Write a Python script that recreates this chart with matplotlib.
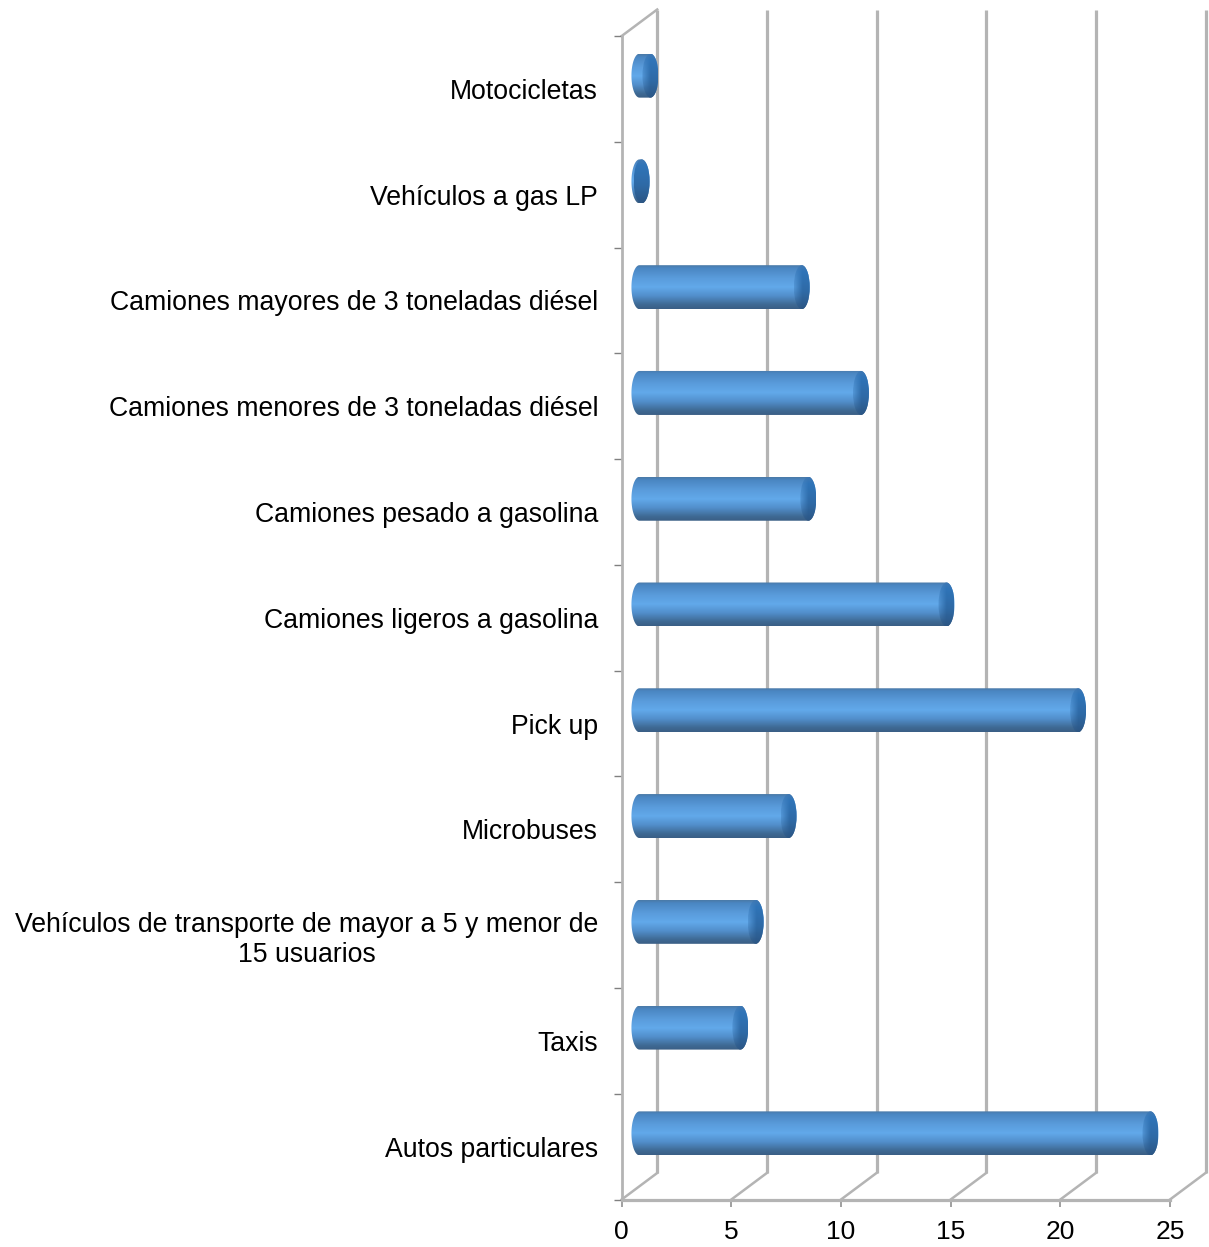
import numpy as np
import matplotlib
matplotlib.use('Agg')
import matplotlib.pyplot as plt
from matplotlib.path import Path
from matplotlib.patches import PathPatch, Ellipse

plt.rcParams['font.family'] = ['Liberation Sans', 'DejaVu Sans']

categories = ['Autos particulares', 'Taxis',
              'Vehículos de transporte de mayor a 5 y menor de\n15 usuarios',
              'Microbuses', 'Pick up', 'Camiones ligeros a gasolina',
              'Camiones pesado a gasolina', 'Camiones menores de 3 toneladas diésel',
              'Camiones mayores de 3 toneladas diésel', 'Vehículos a gas LP', 'Motocicletas']
values = [23.3, 4.6, 5.3, 6.8, 20.0, 14.0, 7.7, 10.1, 7.4, 0.1, 0.5]
xticks = [0, 5, 10, 15, 20, 25]

W, H = 1209, 1247
LEFT, RIGHT, TOP, BOTTOM = 621.7, 1170.0, 36.0, 1199.5
GRID = '#b4b4b4'

# depth of the fake 3d box, in data units
DX = 35.5 / ((RIGHT - LEFT) / 25)
DY = 26.5 / ((BOTTOM - TOP) / 11)
# cylinder sizes, in data units
RX = 8.0 / ((RIGHT - LEFT) / 25)
RY = 22.0 / ((BOTTOM - TOP) / 11)


def gradient(stops, colors, n=64):
    t = np.linspace(0, 1, n)
    rgb = np.array([matplotlib.colors.to_rgb(c) for c in colors])
    return np.stack([np.interp(t, stops, rgb[:, i]) for i in range(3)], axis=1)[:, None, :]


body_grad = gradient([0, 0.06, 0.3, 0.5, 0.7, 0.9, 1],
                     ['#4a7aa8', '#4a86c2', '#5a9cdc', '#62a9ea', '#528fcc', '#3f6a94', '#3a5f86'])
cap_grad = gradient([0, 0.15, 0.6, 1], ['#3f78b4', '#2f74b8', '#2f6aa6', '#2c5684'])


def cap_image(start_alpha):
    # cap fades into the body on its left side
    img = np.repeat(cap_grad, 32, axis=1)
    alpha = np.clip(np.linspace(start_alpha, 1.6, 32), 0, 1)
    alpha = np.broadcast_to(alpha, img.shape[:2])[:, :, None]
    return np.concatenate([img, alpha], axis=2)


def cylinder(ax, pos, val):
    x0 = DX / 2
    x1 = x0 + val
    yc = pos + DY / 2
    t_left = np.linspace(np.pi / 2, 3 * np.pi / 2, 40)
    t_right = np.linspace(-np.pi / 2, np.pi / 2, 40)
    xs = np.concatenate([x0 + RX * np.cos(t_left), x1 + RX * np.cos(t_right)])
    ys = np.concatenate([yc + RY * np.sin(t_left), yc + RY * np.sin(t_right)])
    shape = PathPatch(Path(np.column_stack([xs, ys])), transform=ax.transData, fc='none', ec='none')
    ax.add_patch(shape)
    im = ax.imshow(body_grad, extent=(x0 - RX, x1 + RX, yc - RY, yc + RY), origin='upper',
                   aspect='auto', zorder=3, interpolation='bilinear')
    im.set_clip_path(shape)
    cap = Ellipse((x1, yc), 2 * RX, 2 * RY, fc='none', ec='none', transform=ax.transData)
    ax.add_patch(cap)
    # the tiny gas LP bar is only a dark disc
    start = 1.0 if val < 0.3 else 0.3
    im2 = ax.imshow(cap_image(start), extent=(x1 - RX, x1 + RX, yc - RY, yc + RY), origin='upper',
                    aspect='auto', zorder=4, interpolation='bilinear')
    im2.set_clip_path(cap)


fig = plt.figure(figsize=(W / 100, H / 100), dpi=100)
ax = fig.add_axes([LEFT / W, 1 - BOTTOM / H, (RIGHT - LEFT) / W, (BOTTOM - TOP) / H])

pos = np.arange(len(categories))
ymin, ymax = -0.5, len(categories) - 0.5

# walls and floor
for v in xticks:
    ax.plot([v + DX, v + DX], [ymin + DY, ymax + DY], color=GRID, lw=2.3, clip_on=False, zorder=1,
            solid_capstyle='butt')
    ax.plot([v, v + DX], [ymin, ymin + DY], color=GRID, lw=1.8, clip_on=False, zorder=1)
ax.plot([0, 25], [ymin, ymin], color=GRID, lw=2.3, clip_on=False, zorder=2)
ax.plot([0, 0], [ymin, ymax], color=GRID, lw=2.0, clip_on=False, zorder=2)
ax.plot([0, DX], [ymax, ymax + DY], color=GRID, lw=1.8, clip_on=False, zorder=1)

for p, val in zip(pos, values):
    cylinder(ax, p, val)

ax.set_xlim(0, 25)
ax.set_ylim(ymin, ymax)
for s in ax.spines.values():
    s.set_visible(False)
ax.set_xticks(xticks)
ax.set_yticks(pos)
ax.set_yticklabels(categories, multialignment='center', linespacing=1.2)
ax.set_yticks(np.arange(ymin, ymax + 1), minor=True)
ax.tick_params(axis='y', which='major', length=0, pad=17, labelsize=19.2, labelcolor='black')
ax.tick_params(axis='y', which='minor', length=5.5, width=1, color='#808080')
ax.tick_params(axis='x', length=5, width=1.2, color='#909090', pad=10, labelsize=19, labelcolor='black')

fig.savefig('out.png', dpi=100)
